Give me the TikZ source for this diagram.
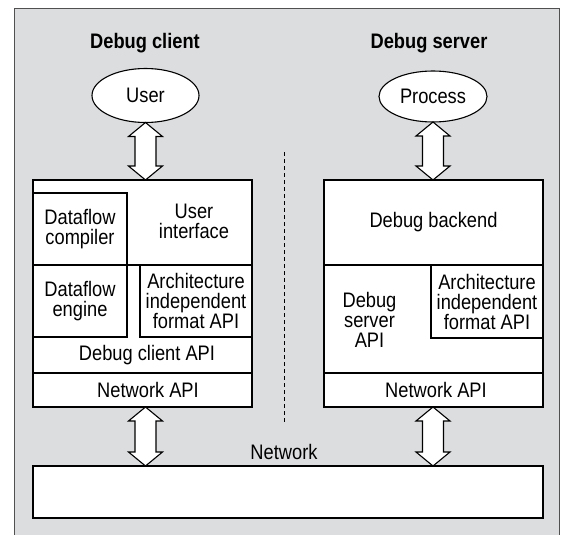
\documentclass[tikz,border=0pt]{standalone}
\usepackage{fontspec}
\setmainfont{Liberation Sans}[FakeStretch=0.87]
\usetikzlibrary{shapes.geometric,calc}
\definecolor{panel}{RGB}{220,221,223}
\definecolor{panelline}{RGB}{80,80,80}
\newcommand\blockarr[2]{%
  \draw[blockarrow] let \p1=(#1), \p2=(#2) in
    (\x1,\y1) -- (\x1+17pt,\y1-14pt) -- (\x1+10.5pt,\y1-14pt) -- (\x1+10.5pt,\y2+14pt)
    -- (\x1+17pt,\y2+14pt) -- (\x1,\y2) -- (\x1-17pt,\y2+14pt) -- (\x1-10.5pt,\y2+14pt)
    -- (\x1-10.5pt,\y1-14pt) -- (\x1-17pt,\y1-14pt) -- cycle;}
\begin{document}
\begin{tikzpicture}[x=1pt,y=-1pt,
  box/.style={draw=black,line width=1.1pt,fill=white,inner sep=0pt,outer sep=0pt,anchor=north west,
    font=\fontsize{21}{20}\selectfont,align=center},
  lbl/.style={font=\fontsize{21}{20}\selectfont, align=center, inner sep=0pt},
  head/.style={font=\fontsize{21}{20}\selectfont\bfseries, inner sep=0pt},
  ell/.style={ellipse, draw, line width=1.1pt, fill=white, inner sep=0pt, outer sep=0pt,
    font=\fontsize{21}{20}\selectfont},
  blockarrow/.style={draw, line width=1.1pt, fill=white, line join=miter},
  divider/.style={draw, line width=0.8pt, dash pattern=on 4pt off 3pt}]

\useasboundingbox (0,0) rectangle (563,535);
\fill[panel] (14,9) rectangle (559,535);
\draw[panelline, line width=1pt] (14,535) -- (14,9) -- (559,9) -- (559,535);

% headers
\node[head] (hclient) at (145,43) {Debug client};
\node[head] (hserver) at (429,43) {Debug server};

% ellipses
\node[ell, minimum width=107, minimum height=54] (user) at (145.5,95.5) {User};
\node[ell, minimum width=108, minimum height=51] (proc) at (433,96.5) {Process};

% client
\node[box, minimum width=219, minimum height=227] (client) at (33,180) {};
\node[box, minimum width=219, minimum height=85] (ctop) at (33,180) {};
\node[box, minimum width=94, minimum height=72] (comp) at (33,193) {Dataflow\\compiler};
\node[lbl] (ui) at (194,221) {User\\interface};
\node[box, minimum width=94, minimum height=72] (eng) at (33,265) {Dataflow\\engine};
\node[box, minimum width=112, minimum height=72] (carch) at (140,265) {Architecture\\independent\\format API};
\node[lbl] (capi) at (147,355.5) {Debug client API};
\node[box, minimum width=219, minimum height=34] (cnet) at (33,373) {};
\node[lbl] (cnetl) at (148,390) {Network API};

% server
\node[box, minimum width=219, minimum height=227] (server) at (324,180) {};
\node[box, minimum width=219, minimum height=85] (backend) at (324,180) {Debug backend};
\node[box, minimum width=112, minimum height=73] (sarch) at (431,265) {Architecture\\independent\\format API};
\node[lbl] (sapi) at (369.5,320) {Debug\\server\\API};
\node[box, minimum width=219, minimum height=34] (snet) at (324,373) {};
\node[lbl] (snetl) at (436,390) {Network API};

% network
\node[box, minimum width=510, minimum height=52] (net) at (33,466) {};
\node[lbl] (netl) at (284,452) {Network};

% divider
\coordinate (dtop) at (284,152);
\coordinate (dbot) at (284,423);
\draw[divider] (dtop) -- (dbot);

% arrows
\blockarr{user.south}{user.south |- client.north}
\blockarr{user.south |- client.south}{user.south |- net.north}
\blockarr{proc.south}{proc.south |- server.north}
\blockarr{proc.south |- server.south}{proc.south |- net.north}
\end{tikzpicture}
\end{document}
